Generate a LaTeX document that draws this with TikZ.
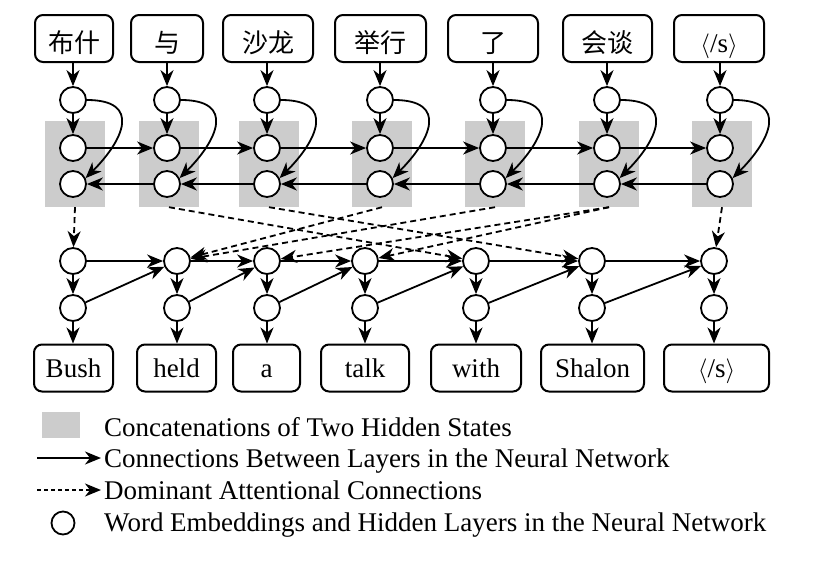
\documentclass[tikz,border=0pt]{standalone}
\usepackage{fontspec}
\setmainfont{Liberation Serif}
\newfontfamily\cjk{Noto Sans CJK SC}
\usetikzlibrary{arrows.meta}
\newcommand\eostok{{\rmfamily\fontsize{27}{30}\selectfont$\langle$/s$\rangle$}}
\begin{document}
\begin{tikzpicture}[x=1pt,y=-1pt,
 arr/.style={-{Stealth[length=16pt,width=13pt,inset=5pt]}, line width=1.8pt},
 att/.style={arr, dash pattern=on 6pt off 4pt},
 cell/.style={circle, draw, line width=1.8pt, minimum size=26pt, inner sep=0pt, fill=white},
 wbox/.style={draw, rounded corners=8pt, line width=2pt, minimum height=47pt, inner sep=0pt, text height=22pt, text depth=3pt, font=\fontsize{27}{30}\selectfont},
 cbox/.style={wbox, text height=27pt, text depth=0pt, font=\cjk\fontsize{26}{30}\selectfont},
 concat/.style={fill=gray!40, minimum width=60pt, minimum height=86pt, inner sep=0pt},
 legtext/.style={anchor=base west, inner sep=0pt, font=\fontsize{27}{30}\selectfont}]
\useasboundingbox (0,0) rectangle (816,568);

% encoder
\foreach \i/\x/\bx/\w/\t in {1/73/74/78/布什,2/167/167/72/与,3/267/268/90/沙龙,4/380/380.5/91/举行,5/493/493/90/了,6/607/607.5/89/会谈,7/720/719/90/\eostok}{
  \node[concat] (c\i) at (\x+2,164) {};
  \node[cbox, minimum width=\w pt] (s\i) at (\bx,38.5) {\t};
  \node[cell] (e\i) at (\x,100) {};
  \node[cell] (f\i) at (\x,148) {};
  \node[cell] (g\i) at (\x,184) {};
}
\foreach \i in {1,...,7}{
  \draw[arr] (s\i.south -| e\i) -- (e\i);
  \draw[arr] (e\i) -- (f\i);
  \draw[arr] (e\i.east) .. controls +(55,0) and +(38,-38) .. (g\i.25);
}
\foreach \i [evaluate=\i as \j using int(\i+1)] in {1,...,6}{
  \draw[arr] (f\i) -- (f\j);
  \draw[arr] (g\j) -- (g\i);
}

% decoder
\foreach \i/\x/\bx/\w/\t in {1/73/73.5/79/Bush,2/177/176.5/79/held,3/267/266.5/67/a,4/365/365/88/talk,5/476/476/90/with,6/592/592.5/103/Shalon,7/714/716.5/105/\eostok}{
  \node[cell] (t\i) at (\x,261) {};
  \node[cell] (b\i) at (\x,308) {};
  \node[wbox, minimum width=\w pt] (w\i) at (\bx,368) {\t};
  \draw[arr] (t\i) -- (b\i);
  \draw[arr] (b\i) -- (w\i.north -| b\i);
}
\foreach \i [evaluate=\i as \j using int(\i+1)] in {1,...,6}{
  \draw[arr] (t\i) -- (t\j);
  \draw[arr] (b\i) -- (t\j);
}

% attention
\draw[att] (c1.south) -- (t1);
\draw[att] (c2.south) -- (t5);
\draw[att] (c3.south) -- (t6);
\draw[att] (c4.south) -- (t2);
\draw[att] (c5.south) -- (t2);
\draw[att] (c6.south) -- (t3);
\draw[att] (c6.south) -- (t4);
\draw[att] (c7.south) -- (t7);

% legend
\node[fill=gray!40, minimum width=38pt, minimum height=26pt, inner sep=0pt] (lg1) at (61,425) {};
\node[legtext] (lt1) at (104,436) {Concatenations of Two Hidden States};
\coordinate (la1) at (37,458);
\coordinate (la2) at (101,458);
\draw[arr] (la1) -- (la2);
\node[legtext] (lt2) at (104,467) {Connections Between Layers in the Neural Network};
\coordinate (lb1) at (37,490);
\coordinate (lb2) at (101,490);
\draw[arr, dash pattern=on 4pt off 3pt] (lb1) -- (lb2);
\node[legtext] (lt3) at (104,499) {Dominant Attentional Connections};
\node[cell, minimum size=23pt] (lc) at (63,523) {};
\node[legtext] (lt4) at (104,531) {Word Embeddings and Hidden Layers in the Neural Network};
\end{tikzpicture}
\end{document}
